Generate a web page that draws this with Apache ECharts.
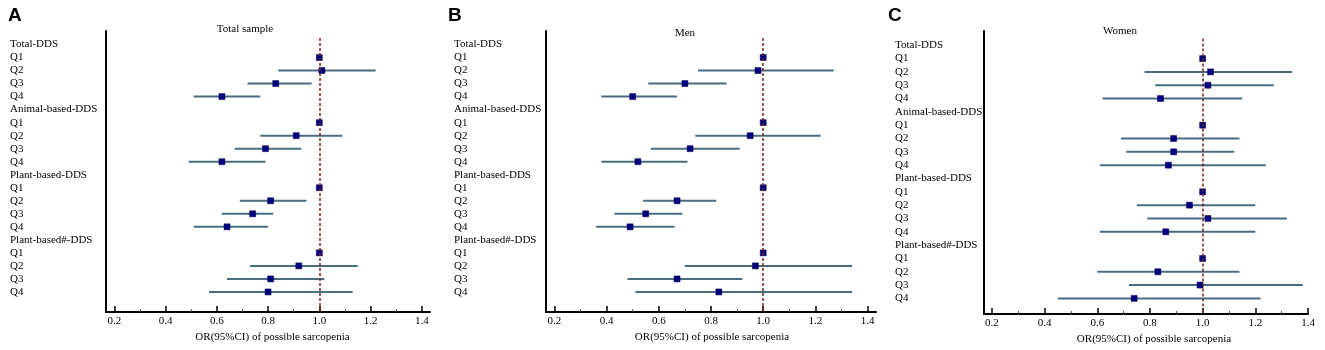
<!DOCTYPE html>
<html>
<head>
<meta charset="UTF-8">
<title>OR of possible sarcopenia</title>
<script src="https://cdn.jsdelivr.net/npm/echarts@6/dist/echarts.min.js"></script>
</head>
<body style="margin:0">
<div id="main" style="width:1325px;height:350px;"></div>
<script type="text/javascript">
// row labels, top to bottom
var rowLabels = ['Total-DDS', 'Q1', 'Q2', 'Q3', 'Q4',
    'Animal-based-DDS', 'Q1', 'Q2', 'Q3', 'Q4',
    'Plant-based-DDS', 'Q1', 'Q2', 'Q3', 'Q4',
    'Plant-based#-DDS', 'Q1', 'Q2', 'Q3', 'Q4'];
var xTicks = [0.2, 0.4, 0.6, 0.8, 1.0, 1.2, 1.4];
var xMinorTicks = [0.3, 0.5, 0.7, 0.9, 1.1, 1.3];

// A: total sample
var totalOR   = [null, 1, 1.01, 0.83, 0.62, null, 1, 0.91, 0.79, 0.62, null, 1, 0.81, 0.74, 0.64, null, 1, 0.92, 0.81, 0.80];
var totalLow  = [null, 1, 0.84, 0.72, 0.51, null, 1, 0.77, 0.67, 0.49, null, 1, 0.69, 0.62, 0.51, null, 1, 0.73, 0.64, 0.57];
var totalHigh = [null, 1, 1.22, 0.97, 0.77, null, 1, 1.09, 0.93, 0.79, null, 1, 0.95, 0.82, 0.80, null, 1, 1.15, 1.02, 1.13];
// B: men
var menOR   = [null, 1, 0.98, 0.70, 0.50, null, 1, 0.95, 0.72, 0.52, null, 1, 0.67, 0.55, 0.49, null, 1, 0.97, 0.67, 0.83];
var menLow  = [null, 1, 0.75, 0.56, 0.38, null, 1, 0.74, 0.57, 0.38, null, 1, 0.54, 0.43, 0.36, null, 1, 0.70, 0.48, 0.51];
var menHigh = [null, 1, 1.27, 0.86, 0.67, null, 1, 1.22, 0.91, 0.71, null, 1, 0.82, 0.69, 0.66, null, 1, 1.34, 0.92, 1.34];
// C: women
var womenOR   = [null, 1, 1.03, 1.02, 0.84, null, 1, 0.89, 0.89, 0.87, null, 1, 0.95, 1.02, 0.86, null, 1, 0.83, 0.99, 0.74];
var womenLow  = [null, 1, 0.78, 0.82, 0.62, null, 1, 0.69, 0.71, 0.61, null, 1, 0.75, 0.79, 0.61, null, 1, 0.60, 0.72, 0.45];
var womenHigh = [null, 1, 1.34, 1.27, 1.15, null, 1, 1.14, 1.12, 1.24, null, 1, 1.20, 1.32, 1.20, null, 1, 1.14, 1.38, 1.22];

var panels = [
    {letter: 'A', title: 'Total sample', or: totalOR, lo: totalLow, hi: totalHigh,
     left: 106, width: 324, top: 31, height: 281, xMin: 0.1676, xMax: 1.432, yMin: -1.035, yMax: 20.54,
     labelMargin: 96, titleX: 240, titleY: 19, letterX: 3, nameShift: 9},
    {letter: 'B', title: 'Men', or: menOR, lo: menLow, hi: menHigh,
     left: 546, width: 330, top: 31, height: 281, xMin: 0.168, xMax: 1.432, yMin: -1.035, yMax: 20.54,
     labelMargin: 92, titleX: 680, titleY: 23, letterX: 443, nameShift: 2},
    {letter: 'C', title: 'Women', or: womenOR, lo: womenLow, hi: womenHigh,
     left: 984, width: 324, top: 31, height: 284, xMin: 0.17, xMax: 1.4, yMin: -1.07, yMax: 20.17,
     labelMargin: 89, titleX: 1115, titleY: 21, letterX: 883, nameShift: 16}
];

var serif = 'Liberation Serif';
var grids = [], xAxes = [], yAxes = [], series = [], titles = [];

function renderBar(params, api) {
    var a = api.coord([api.value(0), api.value(2)]);
    var b = api.coord([api.value(1), api.value(2)]);
    return {
        type: 'line',
        shape: {x1: a[0], y1: a[1], x2: b[0], y2: b[1]},
        style: {stroke: '#4a6c80', lineWidth: 2}
    };
}

panels.forEach(function (p, k) {
    grids.push({left: p.left, top: p.top, width: p.width, height: p.height});

    titles.push({text: p.letter, left: p.letterX, top: 1,
        textStyle: {fontFamily: 'Liberation Sans', fontWeight: 'bold', fontSize: 19, color: '#000'}});
    titles.push({text: p.title, left: p.titleX, top: p.titleY, textAlign: 'center',
        textStyle: {fontFamily: serif, fontWeight: 'normal', fontSize: 11, color: '#000'}});

    // major ticks + labels
    xAxes.push({
        type: 'value', gridIndex: k, min: p.xMin, max: p.xMax, position: 'bottom',
        name: 'OR(95%CI) of possible sarcopenia', nameLocation: 'middle', nameGap: 20,
        nameTextStyle: {fontFamily: serif, fontSize: 11, color: '#000', padding: [0, 0, 0, p.nameShift]},
        axisLine: {onZero: false, lineStyle: {color: '#000', width: 2}},
        axisTick: {inside: true, length: 6, customValues: xTicks, lineStyle: {color: '#000', width: 1.5}},
        axisLabel: {customValues: xTicks, margin: 4, fontFamily: serif, fontSize: 11, color: '#000',
            formatter: function (v) { return v.toFixed(1); }},
        splitLine: {show: false}
    });
    // minor ticks
    xAxes.push({
        type: 'value', gridIndex: k, min: p.xMin, max: p.xMax, position: 'bottom',
        axisLine: {show: false, onZero: false},
        axisTick: {inside: true, length: 3, customValues: xMinorTicks, lineStyle: {color: '#555', width: 1}},
        axisLabel: {show: false},
        splitLine: {show: false}
    });

    yAxes.push({
        type: 'value', gridIndex: k, inverse: true, min: p.yMin, max: p.yMax,
        axisLine: {show: true, onZero: false, lineStyle: {color: '#000', width: 2}},
        axisTick: {show: false},
        axisLabel: {
            customValues: rowLabels.map(function (_, i) { return i; }),
            formatter: function (v) { return rowLabels[v]; },
            align: 'left', margin: p.labelMargin,
            fontFamily: serif, fontSize: 11, color: '#000'
        },
        splitLine: {show: false}
    });

    var bars = [], points = [];
    for (var i = 0; i < rowLabels.length; i++) {
        if (p.or[i] == null) continue;
        bars.push([p.lo[i], p.hi[i], i]);
        points.push([p.or[i], i]);
    }

    series.push({
        type: 'custom', xAxisIndex: 2 * k, yAxisIndex: k, renderItem: renderBar,
        encode: {x: [0, 1], y: 2}, data: bars, z: 2, silent: true,
        markLine: {
            silent: true, symbol: 'none', label: {show: false},
            lineStyle: {color: '#7d1e1e', type: [3, 2], width: 1.5},
            data: [[{coord: [1, -0.5]}, {coord: [1, p.yMax]}]]
        }
    });
    series.push({
        type: 'scatter', xAxisIndex: 2 * k, yAxisIndex: k, symbol: 'rect', symbolSize: 6,
        itemStyle: {color: '#000080', borderColor: '#00004a', borderWidth: 0.5, opacity: 1},
        data: points, z: 3, silent: true
    });
});

var myChart = echarts.init(document.getElementById('main'));
myChart.setOption({
    animation: false,
    backgroundColor: '#fff',
    title: titles,
    grid: grids,
    xAxis: xAxes,
    yAxis: yAxes,
    series: series
});
</script>
</body>
</html>
